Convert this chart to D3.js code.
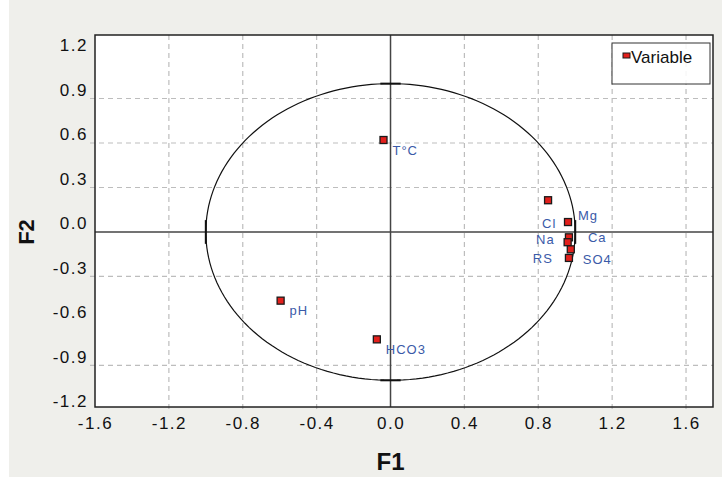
<!DOCTYPE html>
<html>
<head>
<meta charset="utf-8">
<script src="https://cdn.jsdelivr.net/npm/d3@7"></script>
<style>
    body { margin: 0; background: #efefeb; }
    svg { display: block; }
    text { font-family: "Liberation Sans", Arial, sans-serif; }
</style>
</head>
<body>
<div id="chart"></div>
<script>
// correlation circle data (F1 / F2 loadings)
var variables = ["T°C", "pH", "HCO3", "Cl", "Mg", "Ca", "Na", "SO4", "RS"];
var f1 = [-0.038, -0.595, -0.074, 0.853, 0.961, 0.966, 0.959, 0.976, 0.966];
var f2 = [0.620, -0.463, -0.724, 0.214, 0.067, -0.036, -0.069, -0.117, -0.175];
var xTicks = [-1.6, -1.2, -0.8, -0.4, 0.0, 0.4, 0.8, 1.2, 1.6];
var yTicks = [1.2, 0.9, 0.6, 0.3, 0.0, -0.3, -0.6, -0.9, -1.2];
var xGrid = [-1.2, -0.8, -0.4, 0.4, 0.8, 1.2, 1.6];
var yGrid = [0.9, 0.6, 0.3, -0.3, -0.9];
var legendLabel = "Variable";

// label placement: dx, dy (from point centre), anchor
var labelPlace = {
    "Cl": [-6, 23, "start"],
    "Mg": [10, -7, "start"],
    "Ca": [19, 0, "start"],
    "Na": [-13, -3, "end"],
    "SO4": [12, 10, "start"],
    "RS": [-16, 0, "end"]
};

var data = variables.map(function (v, i) {
    return { name: v, x: f1[i], y: f2[i] };
});

var W = 722, H = 477;
var plot = { left: 95, right: 713, top: 35, bottom: 407 };
var fmt = function (d) { return d.toFixed(1); };   // plain hyphen for negatives

var svg = d3.select("#chart").append("svg")
    .attr("width", W)
    .attr("height", H);

svg.append("rect").attr("width", W).attr("height", H).attr("fill", "#efefeb");
svg.append("rect").attr("width", 9).attr("height", H).attr("fill", "#ffffff");

var x = d3.scaleLinear().domain([-1.6, 1.746]).range([plot.left, plot.right]);
var y = d3.scaleLinear().domain([-1.18, 1.328]).range([plot.bottom, plot.top]);

svg.append("rect")
    .attr("x", plot.left).attr("y", plot.top)
    .attr("width", plot.right - plot.left)
    .attr("height", plot.bottom - plot.top)
    .attr("fill", "#ffffff");

// dashed grid
svg.selectAll(".xgrid").data(xGrid).enter().append("line")
    .attr("class", "xgrid")
    .attr("x1", function (d) { return x(d); })
    .attr("x2", function (d) { return x(d); })
    .attr("y1", plot.top).attr("y2", plot.bottom + 5)
    .attr("stroke", "#bdbdbd").attr("stroke-width", 1.2)
    .attr("stroke-dasharray", "5,4");

svg.selectAll(".ygrid").data(yGrid).enter().append("line")
    .attr("class", "ygrid")
    .attr("y1", function (d) { return y(d); })
    .attr("y2", function (d) { return y(d); })
    .attr("x1", plot.left - 5).attr("x2", plot.right)
    .attr("stroke", "#bdbdbd").attr("stroke-width", 1.2)
    .attr("stroke-dasharray", "5,4");

// zero axes
svg.append("line")
    .attr("x1", x(0)).attr("x2", x(0))
    .attr("y1", plot.top).attr("y2", plot.bottom)
    .attr("stroke", "#444").attr("stroke-width", 1.5);
svg.append("line")
    .attr("x1", plot.left).attr("x2", plot.right)
    .attr("y1", y(0)).attr("y2", y(0))
    .attr("stroke", "#444").attr("stroke-width", 1.5);

// unit circle
var angles = d3.range(0, 361, 2);
svg.append("path")
    .datum(angles)
    .attr("d", d3.line()
        .x(function (a) { return x(Math.cos(a * Math.PI / 180)); })
        .y(function (a) { return y(Math.sin(a * Math.PI / 180)); }))
    .attr("fill", "none")
    .attr("stroke", "#111")
    .attr("stroke-width", 1.2);

// little marks where circle crosses the axes
var marks = [
    [-0.055, 1, 0.055, 1], [-0.055, -1, 0.055, -1],
    [-1, -0.08, -1, 0.08], [1, -0.08, 1, 0.08]
];
svg.selectAll(".cmark").data(marks).enter().append("line")
    .attr("x1", function (d) { return x(d[0]); })
    .attr("y1", function (d) { return y(d[1]); })
    .attr("x2", function (d) { return x(d[2]); })
    .attr("y2", function (d) { return y(d[3]); })
    .attr("stroke", "#111").attr("stroke-width", 2);

// points
svg.selectAll(".pt").data(data).enter().append("rect")
    .attr("class", "pt")
    .attr("x", function (d) { return x(d.x) - 3.5; })
    .attr("y", function (d) { return y(d.y) - 3.5; })
    .attr("width", 7).attr("height", 7)
    .attr("fill", "#e3201c")
    .attr("stroke", "#1a1a1a").attr("stroke-width", 1.3);

svg.selectAll(".lbl").data(data).enter().append("text")
    .attr("class", "lbl")
    .attr("x", function (d) { return x(d.x) + (labelPlace[d.name] || [9])[0]; })
    .attr("y", function (d) { return y(d.y) + (labelPlace[d.name] || [9, 10])[1]; })
    .attr("dy", "0.36em")
    .attr("text-anchor", function (d) { return (labelPlace[d.name] || [9, 10, "start"])[2]; })
    .style("font-size", "13px")
    .style("letter-spacing", "1px")
    .attr("fill", "#3a5aa8")
    .text(function (d) { return d.name; });

// plot frame
svg.append("rect")
    .attr("x", plot.left).attr("y", plot.top)
    .attr("width", plot.right - plot.left)
    .attr("height", plot.bottom - plot.top)
    .attr("fill", "none")
    .attr("stroke", "#222").attr("stroke-width", 1.5);

// tick labels
var xAxis = svg.append("g")
    .attr("transform", "translate(0," + (plot.bottom + 16) + ")")
    .call(d3.axisBottom(x).tickValues(xTicks).tickSize(0).tickFormat(fmt));
xAxis.select(".domain").remove();
xAxis.selectAll("text")
    .attr("y", 0).attr("dy", "0.35em")
    .style("font-size", "17px").style("letter-spacing", "1.5px")
    .attr("fill", "#111");

var yAxis = svg.append("g")
    .attr("transform", "translate(" + (plot.left - 7) + ",0)")
    .call(d3.axisLeft(y).tickValues(yTicks).tickSize(0).tickFormat(fmt));
yAxis.select(".domain").remove();
yAxis.selectAll("text")
    .attr("x", 0).attr("dy", "-0.2em")
    .style("font-size", "17px").style("letter-spacing", "1.5px")
    .attr("fill", "#111");

// axis titles
svg.append("text")
    .attr("x", x(0)).attr("y", 462)
    .attr("dy", "0.35em")
    .attr("text-anchor", "middle")
    .style("font-size", "24px").style("font-weight", "bold")
    .attr("fill", "#111")
    .text("F1");

svg.append("text")
    .attr("transform", "translate(26," + y(0) + ") rotate(-90)")
    .attr("dy", "0.35em")
    .attr("text-anchor", "middle")
    .style("font-size", "22px").style("font-weight", "bold")
    .attr("fill", "#111")
    .text("F2");

// legend
var legend = svg.append("g").attr("transform", "translate(612,43)");
legend.append("rect")
    .attr("width", 98).attr("height", 41)
    .attr("fill", "#ffffff").attr("fill-opacity", 0.85)
    .attr("stroke", "#333").attr("stroke-width", 1);
legend.append("rect")
    .attr("x", 11).attr("y", 10).attr("width", 7).attr("height", 5)
    .attr("fill", "#e3201c").attr("stroke", "#1a1a1a").attr("stroke-width", 1);
legend.append("text")
    .attr("x", 19).attr("y", 14).attr("dy", "0.35em")
    .style("font-size", "17px")
    .attr("fill", "#111")
    .text(legendLabel);
</script>
</body>
</html>
